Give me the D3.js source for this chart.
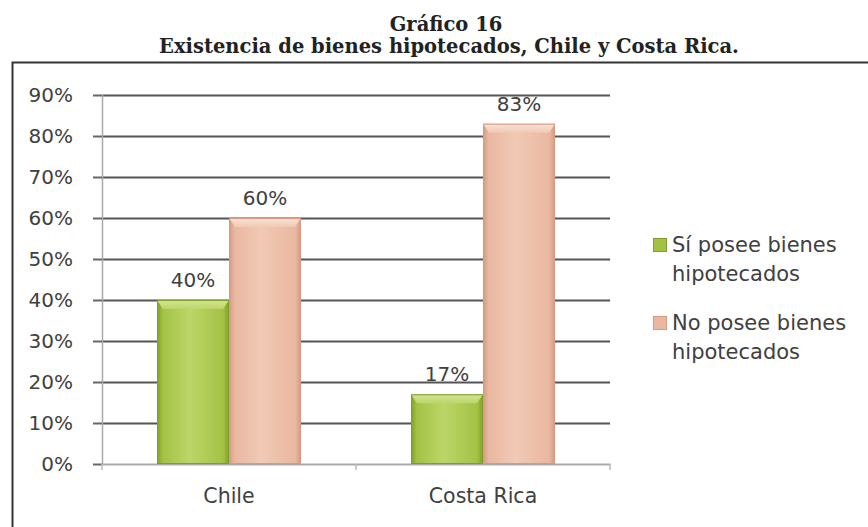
<!DOCTYPE html>
<html>
<head>
<meta charset="utf-8">
<script src="https://cdn.jsdelivr.net/npm/d3@7"></script>
<style>
  html, body { margin: 0; padding: 0; background: #fff; }
  svg { display: block; }
</style>
</head>
<body>
<svg id="chart" width="868" height="527"></svg>
<script>
// Chart data
const categories = ["Chile", "Costa Rica"];
const seriesNames = ["Sí posee bienes hipotecados", "No posee bienes hipotecados"];
const siPosee = [40, 17];
const noPosee = [60, 83];
const yTicks = [0, 10, 20, 30, 40, 50, 60, 70, 80, 90];
const legendLines = [["Sí posee bienes", "hipotecados"], ["No posee bienes", "hipotecados"]];

const W = 868, H = 527;
const plot = { left: 102, right: 610, top: 95, bottom: 464 };
const font = "'DejaVu Sans', sans-serif";
const serif = "'DejaVu Serif', serif";
const textColor = "#404040";

const svg = d3.select("#chart");

// Gradients for the bevelled bar look
const defs = svg.append("defs");
const palettes = [
  { id: "g0", edge: "#7f9e2c", mid: "#a3c245", light: "#bcd668", top: "#d3e495" },
  { id: "g1", edge: "#d49a82", mid: "#eab8a1", light: "#f1c9b5", top: "#f8e2d5" }
];
palettes.forEach(p => {
  const lg = defs.append("linearGradient").attr("id", p.id).attr("x1", 0).attr("x2", 1).attr("y1", 0).attr("y2", 0);
  lg.append("stop").attr("offset", "0%").attr("stop-color", p.edge);
  lg.append("stop").attr("offset", "8%").attr("stop-color", p.mid);
  lg.append("stop").attr("offset", "45%").attr("stop-color", p.light);
  lg.append("stop").attr("offset", "92%").attr("stop-color", p.mid);
  lg.append("stop").attr("offset", "100%").attr("stop-color", p.edge);
  const tg = defs.append("linearGradient").attr("id", p.id + "t").attr("x1", 0).attr("x2", 0).attr("y1", 0).attr("y2", 1);
  tg.append("stop").attr("offset", "0%").attr("stop-color", p.top);
  tg.append("stop").attr("offset", "100%").attr("stop-color", p.light);
});

// Titles
svg.append("text").attr("x", 446).attr("y", 31).attr("text-anchor", "middle")
  .attr("font-family", serif).attr("font-weight", "bold")
  .attr("font-size", 19.5).attr("fill", "#222").text("Gráfico 16");
svg.append("text").attr("x", 449).attr("y", 53).attr("text-anchor", "middle")
  .attr("font-family", serif).attr("font-weight", "bold")
  .attr("font-size", 19.5).attr("fill", "#222").text("Existencia de bienes hipotecados, Chile y Costa Rica.");

// Chart frame (top and left edges)
svg.append("path").attr("d", `M12.5,${H} L12.5,62.5 L${W},62.5`)
  .attr("fill", "none").attr("stroke", "#333").attr("stroke-width", 2);

// Scales
const y = d3.scaleLinear().domain([0, 90]).range([plot.bottom, plot.top]);
const x0 = d3.scaleBand().domain(categories).range([plot.left, plot.right]).paddingInner(0).paddingOuter(0);
const x1 = d3.scaleBand().domain(seriesNames).range([0, x0.bandwidth()]).paddingInner(0).paddingOuter(0.764);

// Gridlines
const grid = svg.append("g").attr("transform", `translate(${plot.left},0)`)
  .call(d3.axisLeft(y).tickValues(yTicks.slice(1)).tickSize(-(plot.right - plot.left)).tickFormat(""));
grid.select(".domain").remove();
grid.selectAll(".tick line").attr("stroke", "#555").attr("stroke-width", 2);

// Y axis
const yAxis = svg.append("g").attr("transform", `translate(${plot.left},0)`)
  .call(d3.axisLeft(y).tickValues(yTicks).tickSize(9).tickPadding(20).tickFormat(d => d + "%"));
yAxis.select(".domain").attr("stroke", "#aaa").attr("stroke-width", 1.5).attr("d", `M0.5,${plot.top} V${plot.bottom}`);
yAxis.selectAll(".tick line").attr("stroke", "#666").attr("stroke-width", 2);
yAxis.selectAll(".tick text").attr("font-family", font).attr("font-size", 20).attr("fill", textColor);

// X axis
const xAxis = svg.append("g").attr("transform", `translate(0,${plot.bottom})`)
  .call(d3.axisBottom(x0).tickSize(0).tickPadding(24));
xAxis.select(".domain").attr("stroke", "#aaa").attr("stroke-width", 2);
xAxis.selectAll(".tick text").attr("font-family", font).attr("font-size", 20.5).attr("fill", textColor);
[plot.left, plot.left + x0.step(), plot.right].forEach(px => {
  xAxis.append("line").attr("x1", px).attr("x2", px).attr("y1", 0).attr("y2", 6)
    .attr("stroke", "#bbb").attr("stroke-width", 1.5);
});

// Bars
const rows = categories.map((c, i) => ({ cat: c, vals: [siPosee[i], noPosee[i]] }));
const groups = svg.append("g").selectAll("g").data(rows).join("g")
  .attr("transform", d => `translate(${x0(d.cat)},0)`);

groups.each(function(d) {
  const g = d3.select(this);
  d.vals.forEach((v, si) => {
    const bx = x1(seriesNames[si]);
    const bw = x1.bandwidth();
    const by = y(v);
    const bh = plot.bottom - by;
    const p = palettes[si];
    g.append("rect").attr("x", bx).attr("y", by).attr("width", bw).attr("height", bh)
      .attr("fill", `url(#${p.id})`);
    // top bevel
    const bev = Math.min(9, bh / 2);
    g.append("path")
      .attr("d", `M${bx},${by} L${bx + bw},${by} L${bx + bw - 6},${by + bev} L${bx + 6},${by + bev} Z`)
      .attr("fill", `url(#${p.id}t)`);
    g.append("rect").attr("x", bx + 0.5).attr("y", by + 0.5).attr("width", bw - 1).attr("height", bh - 1)
      .attr("fill", "none").attr("stroke", p.edge).attr("stroke-width", 1);
    g.append("text").attr("x", bx + bw / 2).attr("y", by - 13).attr("text-anchor", "middle")
      .attr("font-family", font).attr("font-size", 20).attr("fill", textColor).text(v + "%");
  });
});

// Legend
const legend = svg.append("g").attr("transform", "translate(653,0)");
const legendY = [252, 330];
legendLines.forEach((lines, i) => {
  const p = palettes[i];
  legend.append("rect").attr("x", 0.5).attr("y", legendY[i] - 13.5).attr("width", 13).attr("height", 13)
    .attr("fill", p.mid).attr("stroke", p.edge);
  lines.forEach((t, j) => {
    legend.append("text").attr("x", 19).attr("y", legendY[i] + j * 28.5)
      .attr("font-family", font).attr("font-size", 21).attr("fill", textColor).text(t);
  });
});
</script>
</body>
</html>
